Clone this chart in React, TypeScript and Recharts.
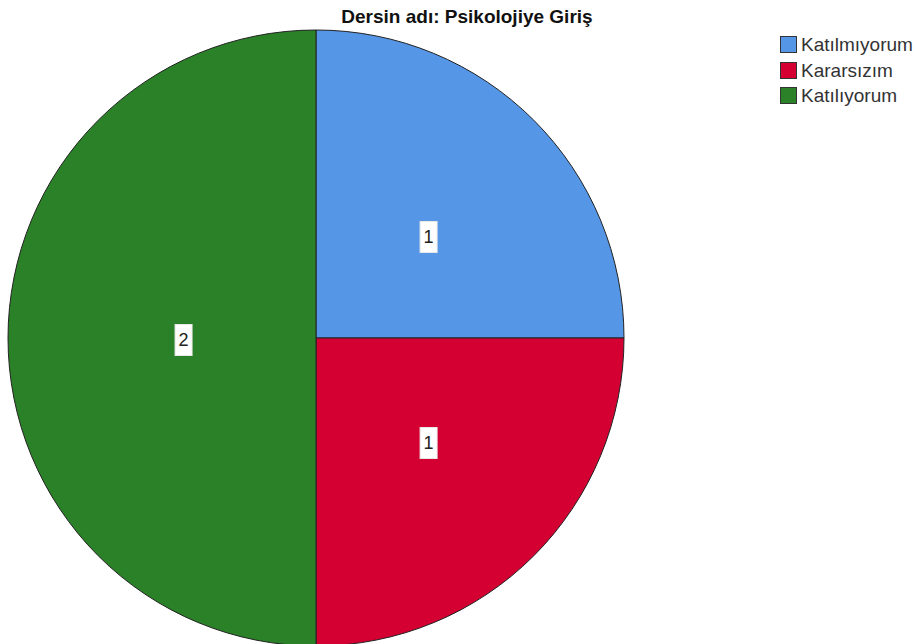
import React from "react";
import { PieChart, Pie, Cell, Legend } from "recharts";

const categories = ["Katılmıyorum", "Kararsızım", "Katılıyorum"];
const counts = [1, 1, 2];
const colors = ["#5596E6", "#D50032", "#2A8127"];
const title = "Dersin adı: Psikolojiye Giriş";

const data = categories.map((name, i) => ({ name, value: counts[i] }));

const RADIAN = Math.PI / 180;
const FONT = "Liberation Sans, Arial, sans-serif";

const renderLabel = (props: any) => {
  const { cx, cy, midAngle, outerRadius, percent, value } = props;
  const big = percent > 0.4;
  const fx = big ? 0.43 : 0.517;
  const fy = big ? 0.43 : 0.473;
  const x = cx + outerRadius * fx * Math.cos(-midAngle * RADIAN);
  const y = cy + outerRadius * fy * Math.sin(-midAngle * RADIAN) + 2;
  return (
    <g>
      <rect x={x - 8.5} y={y - 15.5} width={17} height={31} fill="#ffffff" stroke="#e8e8e8" strokeWidth={1} />
      <text x={x} y={y} textAnchor="middle" dominantBaseline="central" fontSize={18} fill="#222" fontFamily={FONT}>
        {value}
      </text>
    </g>
  );
};

const renderLegend = () => (
  <div style={{ fontFamily: FONT, fontSize: 19, color: "#333", lineHeight: "25px" }}>
    {categories.map((c, i) => (
      <div key={c} style={{ display: "flex", alignItems: "center", height: 25.5 }}>
        <div style={{ width: 15, height: 15, background: colors[i], border: "1px solid #333", marginRight: 4, flexShrink: 0 }} />
        <span>{c}</span>
      </div>
    ))}
  </div>
);

export default function App() {
  return (
    <div style={{ position: "absolute", left: 0, top: 0, width: 917, height: 644, background: "#fff", overflow: "hidden" }}>
      <PieChart width={917} height={644} margin={{ top: 0, right: 0, bottom: 0, left: 0 }}>
        <text x={467} y={16} textAnchor="middle" dominantBaseline="central" fontSize={19} fontWeight="bold" fill="#111" fontFamily={FONT}>
          {title}
        </text>
        <Pie
          data={data}
          dataKey="value"
          nameKey="name"
          cx={316}
          cy={338}
          outerRadius={308}
          startAngle={90}
          endAngle={-270}
          stroke="#222"
          strokeWidth={1}
          label={renderLabel}
          labelLine={false}
          isAnimationActive={false}
        >
          {data.map((d, i) => (
            <Cell key={d.name} fill={colors[i]} />
          ))}
        </Pie>
        <Legend content={renderLegend} wrapperStyle={{ position: "absolute", left: 780, top: 32, width: 140 }} />
      </PieChart>
    </div>
  );
}
